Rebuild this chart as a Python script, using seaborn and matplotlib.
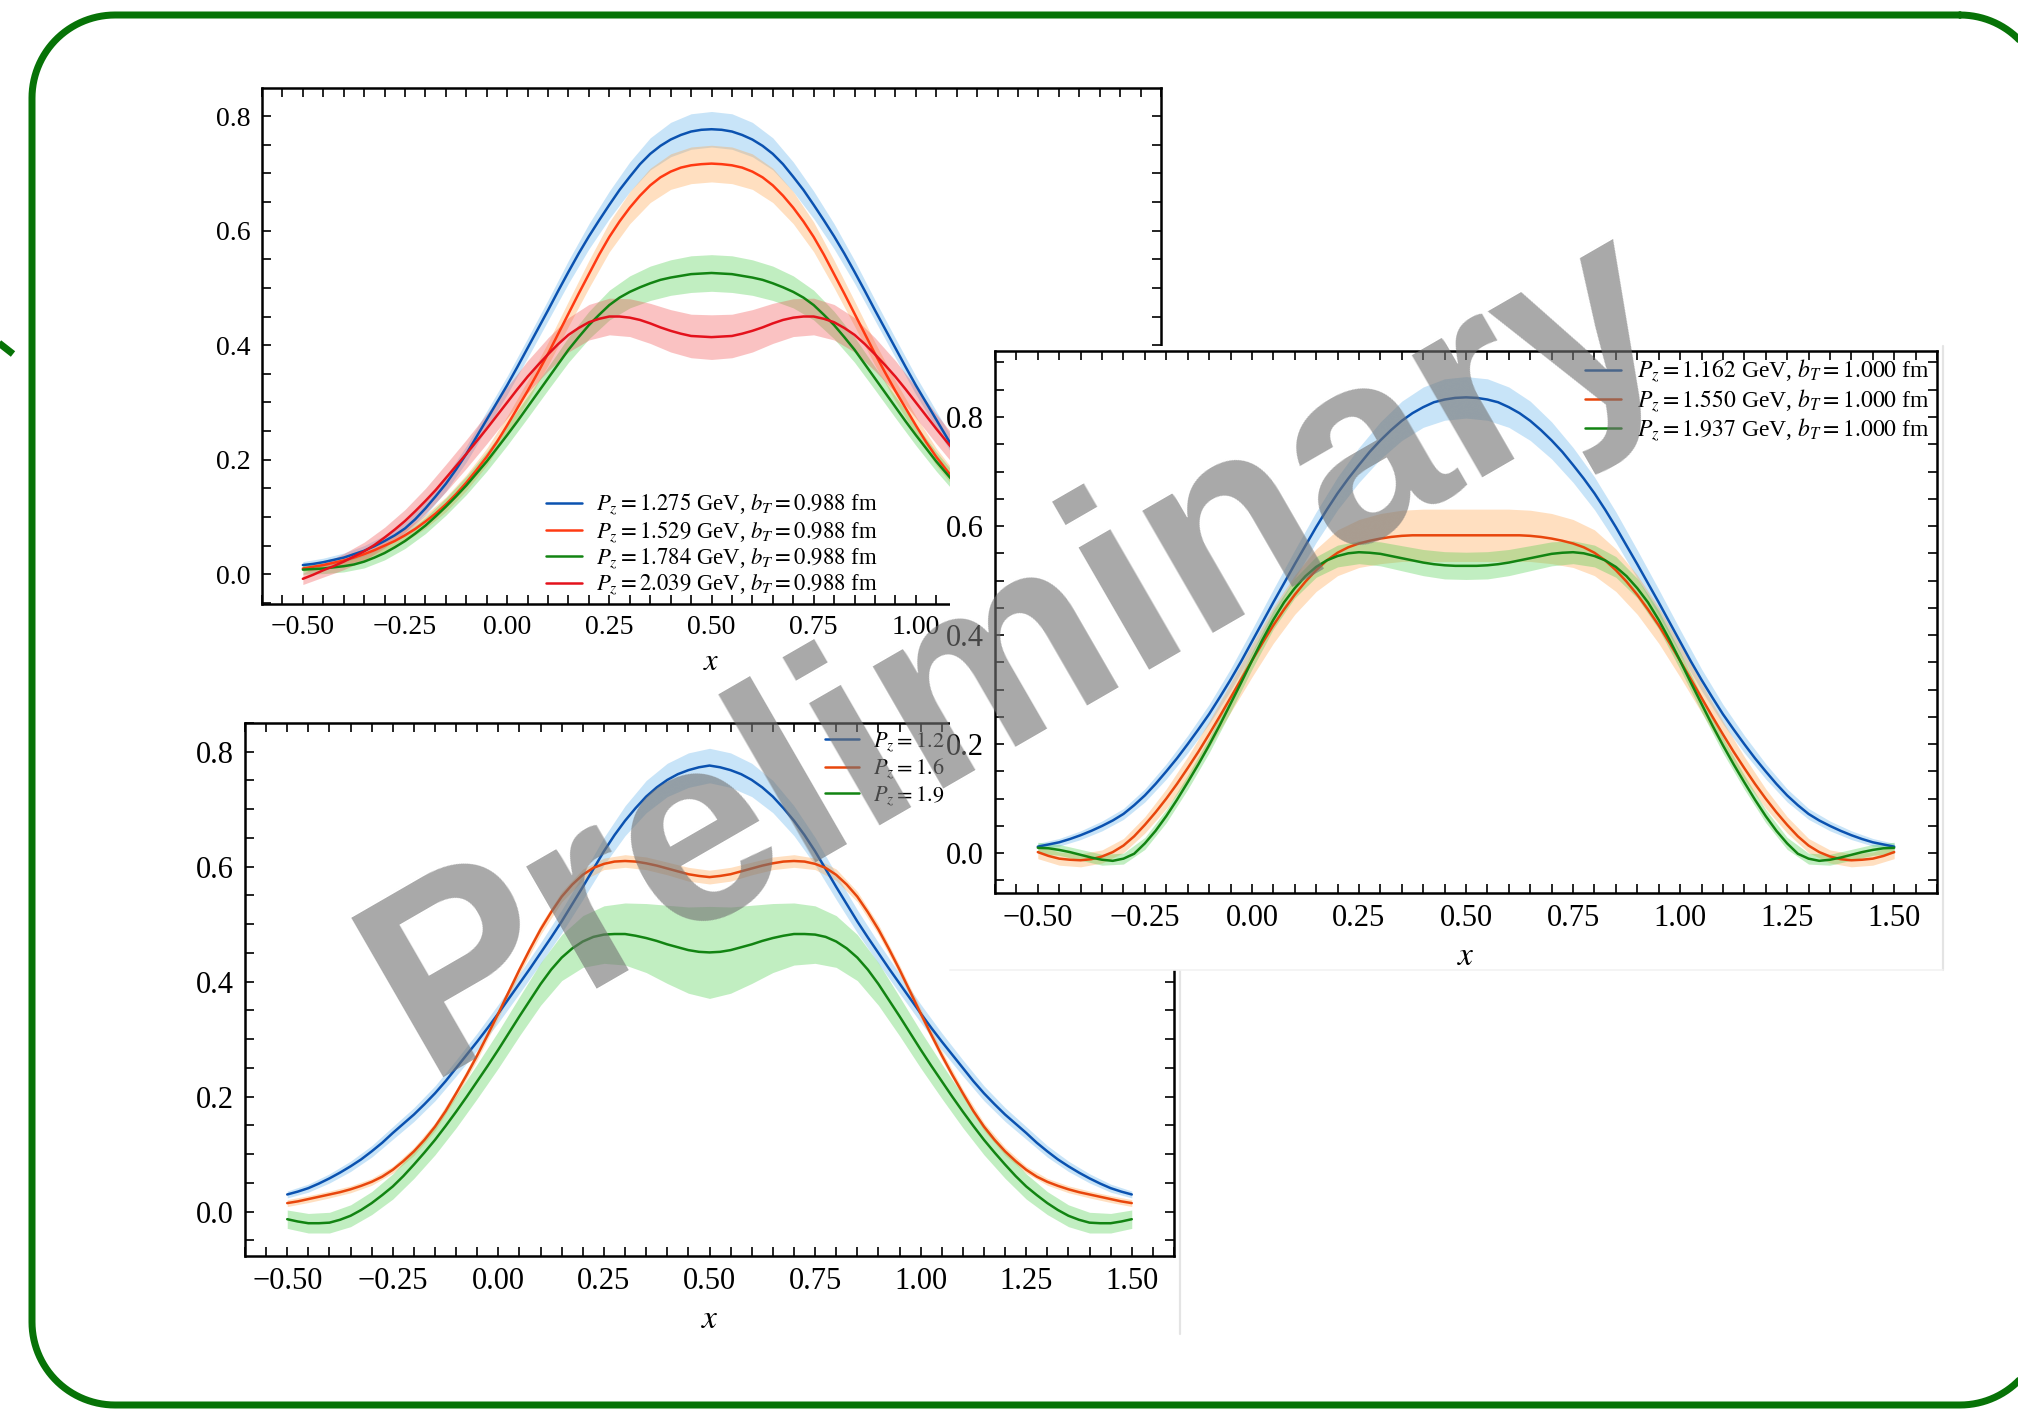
import numpy as np
import matplotlib
matplotlib.use("Agg")
import matplotlib.pyplot as plt
import seaborn as sns
from matplotlib.patches import Rectangle
from matplotlib.lines import Line2D
from matplotlib.ticker import MultipleLocator

# ---------------------------------------------------------------- data
# momentum-fraction grids: central values every 0.025, error bands every 0.05
X = np.round(np.linspace(-0.5, 1.5, 81), 4)
XB = np.round(np.linspace(-0.5, 1.5, 41), 4)

# panel A: b_T = 0.988 fm
A_LABELS = [r"$P_z = 1.275$ GeV, $b_T = 0.988$ fm",
            r"$P_z = 1.529$ GeV, $b_T = 0.988$ fm",
            r"$P_z = 1.784$ GeV, $b_T = 0.988$ fm",
            r"$P_z = 2.039$ GeV, $b_T = 0.988$ fm"]
A_PZ1275 = [0.016, 0.018, 0.021, 0.025, 0.029, 0.035, 0.041, 0.049, 0.058, 0.068, 0.080,
            0.096, 0.115, 0.136, 0.158, 0.183, 0.210, 0.240, 0.270, 0.300, 0.330,
            0.362, 0.395, 0.428, 0.461, 0.495, 0.528, 0.560, 0.590, 0.618, 0.645,
            0.671, 0.694, 0.716, 0.734, 0.748, 0.759, 0.767, 0.773, 0.776, 0.777,
            0.776, 0.773, 0.767, 0.759, 0.748, 0.734, 0.716, 0.694, 0.671, 0.645,
            0.618, 0.590, 0.560, 0.528, 0.495, 0.461, 0.428, 0.395, 0.362, 0.330,
            0.300, 0.270, 0.240, 0.210, 0.183, 0.158, 0.136, 0.115, 0.096, 0.080,
            0.068, 0.058, 0.049, 0.041, 0.035, 0.029, 0.025, 0.021, 0.018, 0.016]
A_PZ1529 = [0.010, 0.013, 0.016, 0.020, 0.024, 0.029, 0.035, 0.042, 0.050, 0.058, 0.068,
            0.079, 0.092, 0.106, 0.122, 0.140, 0.160, 0.182, 0.205, 0.231, 0.260,
            0.290, 0.320, 0.352, 0.385, 0.420, 0.455, 0.490, 0.524, 0.558, 0.589,
            0.616, 0.640, 0.661, 0.679, 0.693, 0.703, 0.710, 0.714, 0.716, 0.717,
            0.716, 0.714, 0.710, 0.703, 0.693, 0.679, 0.661, 0.640, 0.616, 0.589,
            0.558, 0.524, 0.490, 0.455, 0.420, 0.385, 0.352, 0.320, 0.290, 0.260,
            0.231, 0.205, 0.182, 0.160, 0.140, 0.122, 0.106, 0.092, 0.079, 0.068,
            0.058, 0.050, 0.042, 0.035, 0.029, 0.024, 0.020, 0.016, 0.013, 0.010]
A_PZ1784 = [0.008, 0.009, 0.010, 0.012, 0.014, 0.017, 0.022, 0.029, 0.037, 0.047, 0.058,
            0.071, 0.085, 0.101, 0.118, 0.136, 0.155, 0.176, 0.197, 0.220, 0.243,
            0.267, 0.292, 0.317, 0.342, 0.367, 0.392, 0.414, 0.435, 0.453, 0.470,
            0.483, 0.493, 0.501, 0.508, 0.514, 0.518, 0.521, 0.524, 0.525, 0.526,
            0.525, 0.524, 0.521, 0.518, 0.514, 0.508, 0.501, 0.493, 0.483, 0.470,
            0.453, 0.435, 0.414, 0.392, 0.367, 0.342, 0.317, 0.292, 0.267, 0.243,
            0.220, 0.197, 0.176, 0.155, 0.136, 0.118, 0.101, 0.085, 0.071, 0.058,
            0.047, 0.037, 0.029, 0.022, 0.017, 0.014, 0.012, 0.010, 0.009, 0.008]
A_PZ2039 = [-0.008, -0.001, 0.007, 0.014, 0.022, 0.031, 0.040, 0.051, 0.064, 0.078, 0.093,
            0.110, 0.128, 0.147, 0.168, 0.189, 0.210, 0.232, 0.254, 0.277, 0.300,
            0.323, 0.345, 0.365, 0.384, 0.402, 0.418, 0.430, 0.440, 0.446, 0.450,
            0.450, 0.448, 0.444, 0.438, 0.431, 0.425, 0.420, 0.416, 0.415, 0.414,
            0.415, 0.416, 0.420, 0.425, 0.431, 0.438, 0.444, 0.448, 0.450, 0.450,
            0.446, 0.440, 0.430, 0.418, 0.402, 0.384, 0.365, 0.345, 0.323, 0.300,
            0.277, 0.254, 0.232, 0.210, 0.189, 0.168, 0.147, 0.128, 0.110, 0.093,
            0.078, 0.064, 0.051, 0.040, 0.031, 0.022, 0.014, 0.007, -0.001, -0.008]
A_ERR1275 = [0.006, 0.007, 0.008, 0.009, 0.010, 0.011, 0.012, 0.013, 0.014, 0.015, 0.016,
             0.017, 0.018, 0.020, 0.022, 0.024, 0.026, 0.028, 0.030, 0.031, 0.031,
             0.031, 0.030, 0.028, 0.026, 0.024, 0.022, 0.020, 0.018, 0.017, 0.016,
             0.015, 0.014, 0.013, 0.012, 0.011, 0.010, 0.009, 0.008, 0.007, 0.006]
A_ERR1529 = [0.006, 0.007, 0.008, 0.009, 0.010, 0.011, 0.012, 0.013, 0.014, 0.015, 0.016,
             0.018, 0.020, 0.022, 0.024, 0.026, 0.028, 0.030, 0.031, 0.032, 0.032,
             0.032, 0.031, 0.030, 0.028, 0.026, 0.024, 0.022, 0.020, 0.018, 0.016,
             0.015, 0.014, 0.013, 0.012, 0.011, 0.010, 0.009, 0.008, 0.007, 0.006]
A_ERR1784 = [0.008, 0.009, 0.010, 0.011, 0.012, 0.013, 0.014, 0.015, 0.016, 0.017, 0.018,
             0.019, 0.020, 0.022, 0.024, 0.026, 0.028, 0.030, 0.031, 0.032, 0.032,
             0.032, 0.031, 0.030, 0.028, 0.026, 0.024, 0.022, 0.020, 0.019, 0.018,
             0.017, 0.016, 0.015, 0.014, 0.013, 0.012, 0.011, 0.010, 0.009, 0.008]
A_ERR2039 = [0.010, 0.012, 0.014, 0.016, 0.018, 0.020, 0.022, 0.024, 0.025, 0.026, 0.027,
             0.028, 0.029, 0.030, 0.031, 0.032, 0.033, 0.035, 0.037, 0.038, 0.039,
             0.038, 0.037, 0.035, 0.033, 0.032, 0.031, 0.030, 0.029, 0.028, 0.027,
             0.026, 0.025, 0.024, 0.022, 0.020, 0.018, 0.016, 0.014, 0.012, 0.010]

# panel B: b_T = 1.000 fm
B_LABELS = [r"$P_z = 1.162$ GeV, $b_T = 1.000$ fm",
            r"$P_z = 1.550$ GeV, $b_T = 1.000$ fm",
            r"$P_z = 1.937$ GeV, $b_T = 1.000$ fm"]
B_PZ1162 = [0.012, 0.016, 0.020, 0.026, 0.033, 0.041, 0.050, 0.060, 0.072, 0.088, 0.106,
            0.127, 0.150, 0.174, 0.200, 0.227, 0.255, 0.286, 0.318, 0.352, 0.388,
            0.424, 0.460, 0.495, 0.530, 0.564, 0.598, 0.630, 0.660, 0.687, 0.712,
            0.736, 0.757, 0.776, 0.793, 0.807, 0.818, 0.827, 0.832, 0.835, 0.836,
            0.835, 0.832, 0.827, 0.818, 0.807, 0.793, 0.776, 0.757, 0.736, 0.712,
            0.687, 0.660, 0.630, 0.598, 0.564, 0.530, 0.495, 0.460, 0.424, 0.388,
            0.352, 0.318, 0.286, 0.255, 0.227, 0.200, 0.174, 0.150, 0.127, 0.106,
            0.088, 0.072, 0.060, 0.050, 0.041, 0.033, 0.026, 0.020, 0.016, 0.012]
B_PZ1550 = [0.002, -0.005, -0.010, -0.012, -0.013, -0.011, -0.006, 0.002, 0.014, 0.031, 0.052,
            0.075, 0.100, 0.127, 0.156, 0.186, 0.218, 0.251, 0.285, 0.319, 0.353,
            0.386, 0.418, 0.447, 0.474, 0.498, 0.519, 0.537, 0.551, 0.561, 0.568,
            0.573, 0.577, 0.580, 0.582, 0.583, 0.583, 0.583, 0.583, 0.583, 0.583,
            0.583, 0.583, 0.583, 0.583, 0.583, 0.582, 0.580, 0.577, 0.573, 0.568,
            0.561, 0.551, 0.537, 0.519, 0.498, 0.474, 0.447, 0.418, 0.386, 0.353,
            0.319, 0.285, 0.251, 0.218, 0.186, 0.156, 0.127, 0.100, 0.075, 0.052,
            0.031, 0.014, 0.002, -0.006, -0.011, -0.013, -0.012, -0.010, -0.005, 0.002]
B_PZ1937 = [0.010, 0.009, 0.006, 0.002, -0.003, -0.008, -0.012, -0.014, -0.010, -0.001, 0.018,
            0.041, 0.068, 0.098, 0.130, 0.163, 0.198, 0.235, 0.274, 0.313, 0.353,
            0.392, 0.428, 0.460, 0.486, 0.508, 0.525, 0.537, 0.545, 0.550, 0.552,
            0.551, 0.549, 0.545, 0.541, 0.537, 0.533, 0.530, 0.528, 0.527, 0.527,
            0.527, 0.528, 0.530, 0.533, 0.537, 0.541, 0.545, 0.549, 0.551, 0.552,
            0.550, 0.545, 0.537, 0.525, 0.508, 0.486, 0.460, 0.428, 0.392, 0.353,
            0.313, 0.274, 0.235, 0.198, 0.163, 0.130, 0.098, 0.068, 0.041, 0.018,
            -0.001, -0.010, -0.014, -0.012, -0.008, -0.003, 0.002, 0.006, 0.009, 0.010]
B_ERR1162 = [0.006, 0.007, 0.008, 0.009, 0.010, 0.012, 0.014, 0.016, 0.018, 0.020, 0.022,
             0.024, 0.026, 0.028, 0.030, 0.032, 0.034, 0.036, 0.037, 0.038, 0.038,
             0.038, 0.037, 0.036, 0.034, 0.032, 0.030, 0.028, 0.026, 0.024, 0.022,
             0.020, 0.018, 0.016, 0.014, 0.012, 0.010, 0.009, 0.008, 0.007, 0.006]
B_ERR1550 = [0.012, 0.012, 0.012, 0.012, 0.013, 0.015, 0.018, 0.021, 0.024, 0.027, 0.030,
             0.033, 0.036, 0.039, 0.042, 0.044, 0.046, 0.047, 0.048, 0.048, 0.048,
             0.048, 0.048, 0.047, 0.046, 0.044, 0.042, 0.039, 0.036, 0.033, 0.030,
             0.027, 0.024, 0.021, 0.018, 0.015, 0.013, 0.012, 0.012, 0.012, 0.012]
B_ERR1937 = [0.010, 0.010, 0.010, 0.010, 0.010, 0.011, 0.012, 0.013, 0.014, 0.015, 0.016,
             0.017, 0.018, 0.019, 0.020, 0.021, 0.022, 0.023, 0.024, 0.025, 0.025,
             0.025, 0.024, 0.023, 0.022, 0.021, 0.020, 0.019, 0.018, 0.017, 0.016,
             0.015, 0.014, 0.013, 0.012, 0.011, 0.010, 0.010, 0.010, 0.010, 0.010]

# panel C
C_LABELS = [r"$P_z = 1.2$", r"$P_z = 1.6$", r"$P_z = 1.9$"]
C_PZ12 = [0.030, 0.035, 0.041, 0.049, 0.058, 0.068, 0.079, 0.091, 0.105, 0.120, 0.137,
          0.153, 0.169, 0.187, 0.206, 0.227, 0.250, 0.273, 0.296, 0.320, 0.345,
          0.371, 0.397, 0.423, 0.450, 0.477, 0.505, 0.535, 0.565, 0.596, 0.627,
          0.655, 0.680, 0.702, 0.722, 0.738, 0.751, 0.761, 0.768, 0.773, 0.776,
          0.773, 0.768, 0.761, 0.751, 0.738, 0.722, 0.702, 0.680, 0.655, 0.627,
          0.596, 0.565, 0.535, 0.505, 0.477, 0.450, 0.423, 0.397, 0.371, 0.345,
          0.320, 0.296, 0.273, 0.250, 0.227, 0.206, 0.187, 0.169, 0.153, 0.137,
          0.120, 0.105, 0.091, 0.079, 0.068, 0.058, 0.049, 0.041, 0.035, 0.030]
C_PZ16 = [0.015, 0.018, 0.022, 0.026, 0.030, 0.034, 0.039, 0.045, 0.052, 0.061, 0.073,
          0.088, 0.105, 0.125, 0.148, 0.175, 0.206, 0.238, 0.272, 0.308, 0.345,
          0.383, 0.421, 0.457, 0.491, 0.521, 0.548, 0.569, 0.586, 0.598, 0.605,
          0.609, 0.610, 0.609, 0.606, 0.602, 0.597, 0.592, 0.587, 0.584, 0.582,
          0.584, 0.587, 0.592, 0.597, 0.602, 0.606, 0.609, 0.610, 0.609, 0.605,
          0.598, 0.586, 0.569, 0.548, 0.521, 0.491, 0.457, 0.421, 0.383, 0.345,
          0.308, 0.272, 0.238, 0.206, 0.175, 0.148, 0.125, 0.105, 0.088, 0.073,
          0.061, 0.052, 0.045, 0.039, 0.034, 0.030, 0.026, 0.022, 0.018, 0.015]
C_PZ19 = [-0.013, -0.017, -0.020, -0.020, -0.019, -0.014, -0.007, 0.003, 0.015, 0.029, 0.044,
          0.062, 0.082, 0.103, 0.125, 0.149, 0.174, 0.200, 0.227, 0.254, 0.282,
          0.311, 0.340, 0.368, 0.396, 0.421, 0.442, 0.458, 0.470, 0.478, 0.482,
          0.483, 0.483, 0.480, 0.476, 0.471, 0.465, 0.460, 0.455, 0.452, 0.451,
          0.452, 0.455, 0.460, 0.465, 0.471, 0.476, 0.480, 0.483, 0.483, 0.482,
          0.478, 0.470, 0.458, 0.442, 0.421, 0.396, 0.368, 0.340, 0.311, 0.282,
          0.254, 0.227, 0.200, 0.174, 0.149, 0.125, 0.103, 0.082, 0.062, 0.044,
          0.029, 0.015, 0.003, -0.007, -0.014, -0.019, -0.020, -0.020, -0.017, -0.013]
C_ERR12 = [0.006, 0.007, 0.008, 0.009, 0.010, 0.011, 0.012, 0.013, 0.014, 0.015, 0.016,
           0.017, 0.018, 0.020, 0.022, 0.024, 0.026, 0.028, 0.029, 0.030, 0.030,
           0.030, 0.029, 0.028, 0.026, 0.024, 0.022, 0.020, 0.018, 0.017, 0.016,
           0.015, 0.014, 0.013, 0.012, 0.011, 0.010, 0.009, 0.008, 0.007, 0.006]
C_ERR16 = [0.006, 0.006, 0.006, 0.006, 0.006, 0.006, 0.007, 0.007, 0.007, 0.008, 0.008,
           0.008, 0.009, 0.009, 0.010, 0.010, 0.011, 0.011, 0.011, 0.012, 0.012,
           0.012, 0.011, 0.011, 0.011, 0.010, 0.010, 0.009, 0.009, 0.008, 0.008,
           0.008, 0.007, 0.007, 0.007, 0.006, 0.006, 0.006, 0.006, 0.006, 0.006]
C_ERR19 = [0.016, 0.017, 0.018, 0.019, 0.020, 0.022, 0.024, 0.026, 0.028, 0.030, 0.032,
           0.034, 0.037, 0.040, 0.045, 0.050, 0.054, 0.060, 0.068, 0.075, 0.080,
           0.075, 0.068, 0.060, 0.054, 0.050, 0.045, 0.040, 0.037, 0.034, 0.032,
           0.030, 0.028, 0.026, 0.024, 0.022, 0.020, 0.019, 0.018, 0.017, 0.016]

# ---------------------------------------------------------------- style
BLUE, BLUE_BAND = "#0b52b0", "#5aaeea"
ORANGE, ORANGE_BAND = "#ff3a12", "#ff9f40"
ORANGE2 = "#e8460c"
GREEN, GREEN_BAND = "#128412", "#45cc45"
RED, RED_BAND = "#e4121c", "#f04848"
FRAME_GREEN = "#077307"

W, H, DPI = 2018, 1410, 100

sns.set_theme(style="ticks")
plt.rcParams.update({
    "font.family": ["Liberation Serif", "DejaVu Serif"],
    "mathtext.fontset": "stix",
    "text.color": "black",
    "axes.labelcolor": "black",
    "axes.edgecolor": "black",
    "xtick.color": "black",
    "ytick.color": "black",
    "figure.facecolor": "white",
    "savefig.facecolor": "white",
})

fig = plt.figure(figsize=(W / DPI, H / DPI), dpi=DPI)


def fx(x):
    return np.asarray(x, float) / W


def fy(y):
    return 1 - np.asarray(y, float) / H


def box(l, t, r, b):
    """Pixel box measured from the top-left corner -> figure fraction."""
    return [l / W, 1 - b / H, (r - l) / W, (b - t) / H]


def card(l, t, r, b, z, right_edge=True, bottom_edge=False):
    fig.add_artist(Rectangle((fx(l), fy(b)), (r - l) / W, (b - t) / H,
                             transform=fig.transFigure,
                             facecolor="white", edgecolor="none", zorder=z))
    if right_edge:
        fig.add_artist(Line2D(fx([r, r]), fy([b, t]), transform=fig.transFigure,
                              color="#e4e4e4", lw=1.6, zorder=z))
    if bottom_edge:
        fig.add_artist(Line2D(fx([l, r]), fy([b, b]), transform=fig.transFigure,
                              color="#f2f2f2", lw=1.2, zorder=z))


def panel(rect, ys, errs, lines, bands, labels, ylim, fs, lab_fs, z, leg_kw):
    ax = fig.add_axes(box(*rect), zorder=z)
    ax.set_facecolor("white")
    for y, e, bc in zip(ys, errs, bands):
        yb = np.asarray(y)[::2]
        e = np.asarray(e)
        ax.fill_between(XB, yb - e, yb + e, color=bc, alpha=0.33, lw=0)
    for y, lc in zip(ys, lines):
        sns.lineplot(x=X, y=y, ax=ax, color=lc, lw=1.8, errorbar=None, legend=False,
                     solid_joinstyle="round")
    ax.set_xlim(-0.6, 1.6)
    ax.set_ylim(*ylim)
    ax.xaxis.set_major_locator(MultipleLocator(0.25))
    ax.xaxis.set_minor_locator(MultipleLocator(0.05))
    ax.yaxis.set_major_locator(MultipleLocator(0.2))
    ax.yaxis.set_minor_locator(MultipleLocator(0.05))
    ax.tick_params(which="both", direction="in", top=True, right=True,
                   length=6.8, width=1.2)
    ax.tick_params(which="major", labelsize=fs, pad=8)
    for sp in ax.spines.values():
        sp.set_linewidth(1.8)
        sp.set_color("black")
    ax.set_xlabel(r"$x$", fontsize=lab_fs, labelpad=6)
    ax.set_ylabel("")
    ax.legend(ax.get_lines(), labels, frameon=False, **leg_kw)
    return ax


# panel A (underneath)
panel((262, 88, 1161, 604),
      [A_PZ1275, A_PZ1529, A_PZ1784, A_PZ2039],
      [A_ERR1275, A_ERR1529, A_ERR1784, A_ERR2039],
      [BLUE, ORANGE, GREEN, RED], [BLUE_BAND, ORANGE_BAND, GREEN_BAND, RED_BAND],
      A_LABELS, (-0.052, 0.849), 20, 22, 1,
      dict(loc="lower center", fontsize=16.4, borderaxespad=0.0, borderpad=0.3,
           handlelength=1.6, handletextpad=0.6, labelspacing=0.06))

# panel C (middle layer)
card(170, 688, 1180, 1334, 2)
panel((245, 723, 1174, 1256),
      [C_PZ12, C_PZ16, C_PZ19], [C_ERR12, C_ERR16, C_ERR19],
      [BLUE, ORANGE2, GREEN], [BLUE_BAND, ORANGE_BAND, GREEN_BAND],
      C_LABELS, (-0.077, 0.850), 22, 24, 3,
      dict(loc="upper left", bbox_to_anchor=(0.617, 1.0), fontsize=16,
           borderaxespad=0.0, borderpad=0.3, handlelength=1.55,
           handletextpad=0.6, labelspacing=0.12))

# panel B (top layer)
card(950, 346, 1943, 970, 4, bottom_edge=True)
panel((995, 351, 1937, 893),
      [B_PZ1162, B_PZ1550, B_PZ1937], [B_ERR1162, B_ERR1550, B_ERR1937],
      [BLUE, ORANGE2, GREEN], [BLUE_BAND, ORANGE_BAND, GREEN_BAND],
      B_LABELS, (-0.073, 0.921), 22, 24, 5,
      dict(loc="upper right", bbox_to_anchor=(1.0, 1.0), fontsize=17,
           borderaxespad=0.0, borderpad=0.3, handlelength=1.5,
           handletextpad=0.7, labelspacing=0.08))

# watermark
fig.text(fx(425), fy(1078), "Preliminary", rotation=30, rotation_mode="anchor",
         ha="left", va="baseline", fontsize=192, fontweight="bold",
         family=["Liberation Sans", "DejaVu Sans"], color=(0.45, 0.45, 0.45),
         alpha=0.62, zorder=20)


# rounded slide frame (runs past the right edge of the canvas)
def frame_outline(l, t, r, b, rad, n=30):
    xs, ys = [], []
    for cx, cy, a0 in [(r - rad, t + rad, -90), (r - rad, b - rad, 0),
                       (l + rad, b - rad, 90), (l + rad, t + rad, 180)]:
        ang = np.radians(np.linspace(a0, a0 + 90, n))
        xs.extend(cx + rad * np.cos(ang))
        ys.extend(cy + rad * np.sin(ang))
    xs.append(xs[0])
    ys.append(ys[0])
    return fx(xs), fy(ys)


frx, fry = frame_outline(32, 15, 2043, 1405, 83)
fig.add_artist(Line2D(frx, fry, transform=fig.transFigure, color=FRAME_GREEN,
                      lw=7 * 72 / DPI, solid_joinstyle="round", zorder=30))
fig.add_artist(Line2D(fx([-10, 13]), fy([336, 354]), transform=fig.transFigure,
                      color=FRAME_GREEN, lw=7 * 72 / DPI, solid_capstyle="butt", zorder=30))

fig.savefig("out.png", dpi=DPI)
